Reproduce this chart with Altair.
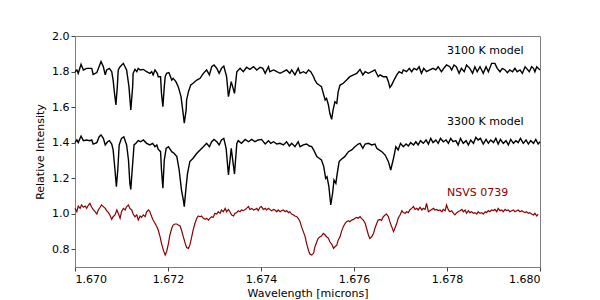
import altair as alt
import pandas as pd

# ---------------- data ----------------
wl_3100 = [1.67000,1.67004,1.67007,1.67013,1.67018,1.67025,1.67036,1.67039,1.67047,1.67056,1.67061,1.67065,1.67068,1.67074,1.67079,1.67082,1.67085,1.67088,1.67091,1.67093,1.67097,1.67104,1.67111,1.67116,1.67120,1.67124,1.67125,1.67129,1.67133,1.67136,1.67140,1.67147,1.67154,1.67161,1.67165,1.67168,1.67172,1.67177,1.67179,1.67184,1.67186,1.67189,1.67192,1.67194,1.67197,1.67202,1.67208,1.67211,1.67217,1.67222,1.67228,1.67233,1.67235,1.67239,1.67240,1.67244,1.67249,1.67254,1.67262,1.67269,1.67276,1.67283,1.67289,1.67294,1.67299,1.67305,1.67310,1.67315,1.67320,1.67326,
           1.67330,1.67336,1.67343,1.67348,1.67355,1.67362,1.67369,1.67376,1.67384,1.67391,1.67398,1.67404,1.67409,1.67416,1.67419,1.67427,1.67434,1.67441,1.67448,1.67455,1.67462,1.67466,1.67473,1.67480,1.67484,1.67491,1.67497,1.67502,1.67507,1.67513,1.67516,1.67520,1.67525,1.67530,1.67534,1.67538,1.67541,1.67545,1.67548,1.67552,1.67555,1.67559,1.67563,1.67566,1.67570,1.67577,1.67584,1.67591,1.67599,1.67606,1.67613,1.67619,1.67624,1.67631,1.67638,1.67645,1.67652,
           1.67656,1.67663,1.67670,1.67674,1.67677,1.67681,1.67686,1.67692,1.67697,1.67703,1.67706,1.67713,1.67719,1.67724,1.67729,1.67735,1.67740,1.67745,1.67750,1.67756,1.67763,1.67770,1.67776,1.67781,1.67788,1.67793,1.67799,1.67806,1.67810,1.67815,1.67820,1.67826,1.67831,1.67837,1.67842,1.67849,1.67855,1.67860,1.67865,1.67871,1.67878,1.67884,1.67889,1.67896,1.67903,1.67908,1.67914,1.67919,1.67925,1.67930,1.67935,1.67941,1.67946,1.67951,1.67957,1.67962,1.67968,1.67971,1.67977,1.67982,1.67986,1.67989,1.67993,1.68000]
fl_3100 = [1.799,1.809,1.790,1.841,1.809,1.818,1.818,1.784,1.794,1.856,1.827,1.781,1.809,1.818,1.799,1.752,1.677,1.612,1.715,1.809,1.827,1.846,1.809,1.715,1.584,1.715,1.790,1.812,1.799,1.818,1.809,1.812,1.799,1.790,1.799,1.781,1.809,1.790,1.771,1.771,1.677,1.602,1.715,1.771,1.790,1.794,1.752,1.762,1.743,1.715,1.659,1.555,1.509,1.584,1.640,1.687,1.724,1.734,1.752,1.762,1.790,1.809,1.781,1.827,1.837,1.818,1.790,1.818,1.831,1.771,
           1.659,1.743,1.677,1.799,1.818,1.799,1.824,1.812,1.827,1.809,1.824,1.818,1.790,1.827,1.799,1.809,1.799,1.790,1.799,1.809,1.790,1.809,1.781,1.818,1.790,1.799,1.790,1.809,1.799,1.771,1.752,1.734,1.724,1.715,1.677,1.640,1.649,1.612,1.565,1.531,1.584,1.630,1.621,1.687,1.724,1.734,1.752,1.771,1.781,1.790,1.812,1.781,1.799,1.790,1.799,1.809,1.771,
           1.781,1.771,1.771,1.743,1.711,1.724,1.752,1.781,1.799,1.790,1.809,1.799,1.818,1.799,1.818,1.809,1.827,1.790,1.818,1.799,1.809,1.818,1.809,1.827,1.799,1.818,1.837,1.827,1.809,1.837,1.827,1.790,1.818,1.799,1.837,1.818,1.790,1.827,1.799,1.827,1.790,1.827,1.799,1.846,1.846,1.818,1.799,1.818,1.809,1.794,1.809,1.799,1.818,1.799,1.809,1.790,1.827,1.818,1.799,1.827,1.818,1.799,1.827,1.809]

wl_3300 = [1.67000,1.67004,1.67007,1.67013,1.67018,1.67025,1.67032,1.67036,1.67039,1.67047,1.67052,1.67056,1.67061,1.67065,1.67070,1.67074,1.67079,1.67082,1.67086,1.67089,1.67092,1.67095,1.67100,1.67105,1.67111,1.67115,1.67118,1.67120,1.67123,1.67127,1.67131,1.67136,1.67141,1.67147,1.67154,1.67161,1.67167,1.67172,1.67176,1.67179,1.67184,1.67186,1.67189,1.67192,1.67196,1.67201,1.67208,1.67213,1.67219,1.67224,1.67229,1.67233,1.67235,1.67239,1.67242,1.67247,1.67254,1.67262,1.67269,1.67276,1.67283,1.67289,1.67294,1.67299,1.67305,1.67310,1.67315,1.67320,1.67325,
           1.67330,1.67336,1.67343,1.67348,1.67351,1.67358,1.67366,1.67373,1.67380,1.67387,1.67394,1.67401,1.67409,1.67416,1.67421,1.67427,1.67434,1.67441,1.67448,1.67455,1.67461,1.67466,1.67473,1.67480,1.67484,1.67491,1.67498,1.67504,1.67509,1.67514,1.67520,1.67525,1.67530,1.67535,1.67539,1.67542,1.67546,1.67550,1.67554,1.67557,1.67561,1.67564,1.67568,1.67573,1.67580,1.67588,1.67595,1.67602,1.67609,1.67613,1.67619,1.67624,1.67631,1.67638,1.67645,1.67649,1.67654,
           1.67660,1.67667,1.67674,1.67679,1.67685,1.67690,1.67695,1.67700,1.67706,1.67712,1.67717,1.67722,1.67728,1.67733,1.67738,1.67743,1.67749,1.67755,1.67760,1.67765,1.67770,1.67776,1.67781,1.67786,1.67792,1.67798,1.67803,1.67808,1.67813,1.67819,1.67824,1.67829,1.67835,1.67841,1.67846,1.67851,1.67857,1.67862,1.67867,1.67872,1.67878,1.67884,1.67889,1.67894,1.67900,1.67905,1.67910,1.67915,1.67921,1.67927,1.67932,1.67937,1.67943,1.67948,1.67953,1.67958,1.67964,1.67970,1.67975,1.67980,1.67986,1.67991,1.67996,1.68000]
fl_3300 = [1.400,1.415,1.400,1.437,1.411,1.415,1.411,1.415,1.392,1.400,1.433,1.443,1.424,1.387,1.405,1.411,1.392,1.359,1.246,1.152,1.246,1.387,1.424,1.433,1.387,1.302,1.171,1.137,1.246,1.387,1.396,1.411,1.405,1.415,1.396,1.387,1.396,1.377,1.387,1.362,1.349,1.246,1.143,1.302,1.368,1.377,1.349,1.340,1.321,1.246,1.133,1.077,1.040,1.152,1.227,1.293,1.312,1.340,1.359,1.377,1.396,1.377,1.405,1.418,1.405,1.387,1.415,1.424,1.368,
           1.218,1.368,1.223,1.396,1.411,1.396,1.418,1.405,1.418,1.405,1.415,1.418,1.392,1.411,1.396,1.405,1.392,1.396,1.387,1.405,1.381,1.396,1.377,1.405,1.377,1.387,1.392,1.381,1.377,1.355,1.321,1.312,1.302,1.265,1.199,1.208,1.152,1.049,1.115,1.190,1.171,1.227,1.293,1.306,1.321,1.349,1.359,1.377,1.392,1.396,1.368,1.392,1.396,1.387,1.392,1.368,1.359,
           1.349,1.330,1.293,1.246,1.312,1.377,1.359,1.396,1.377,1.392,1.381,1.400,1.387,1.405,1.387,1.411,1.396,1.415,1.392,1.424,1.400,1.415,1.396,1.424,1.405,1.415,1.396,1.424,1.405,1.411,1.387,1.424,1.396,1.411,1.387,1.415,1.396,1.430,1.415,1.424,1.392,1.418,1.396,1.415,1.400,1.424,1.392,1.418,1.396,1.411,1.387,1.418,1.396,1.411,1.400,1.424,1.396,1.415,1.392,1.411,1.396,1.418,1.392,1.405]

wl_obs = [1.67000,1.67004,1.67007,1.67011,1.67014,1.67018,1.67022,1.67025,1.67029,1.67032,1.67036,1.67039,1.67043,1.67047,1.67050,1.67054,1.67057,1.67061,1.67065,1.67068,
          1.67072,1.67075,1.67079,1.67082,1.67086,1.67090,1.67093,1.67097,1.67100,1.67104,1.67108,1.67111,1.67115,1.67118,1.67122,1.67125,1.67129,1.67133,1.67136,1.67140,
          1.67143,1.67147,1.67151,1.67154,1.67158,1.67161,1.67165,1.67168,1.67172,1.67176,1.67179,1.67183,1.67186,1.67190,1.67194,1.67197,1.67201,1.67204,1.67208,1.67211,
          1.67215,1.67219,1.67222,1.67226,1.67229,1.67233,1.67237,1.67240,1.67244,1.67247,1.67251,1.67254,1.67258,1.67262,1.67265,1.67269,1.67272,1.67276,1.67280,1.67283,
          1.67287,1.67290,1.67294,1.67297,1.67301,1.67305,1.67308,1.67312,1.67315,1.67319,1.67323,1.67326,1.67330,
          1.67333,1.67337,1.67341,1.67344,1.67348,1.67351,1.67355,1.67358,1.67362,1.67366,1.67369,1.67373,1.67376,1.67380,1.67384,1.67387,1.67391,1.67394,1.67398,1.67401,
          1.67405,1.67409,1.67412,1.67416,1.67419,1.67423,1.67427,1.67430,1.67434,1.67437,1.67441,1.67444,1.67448,1.67452,1.67455,1.67459,1.67462,1.67466,1.67470,1.67473,
          1.67477,1.67480,1.67484,1.67487,1.67491,1.67495,1.67498,1.67502,1.67505,1.67509,1.67513,1.67516,1.67520,1.67523,1.67527,1.67530,1.67534,1.67538,1.67541,1.67545,
          1.67548,1.67552,1.67556,1.67559,1.67563,1.67566,1.67570,1.67573,1.67577,1.67581,1.67584,1.67588,1.67591,1.67595,1.67599,1.67602,1.67606,1.67609,1.67613,1.67616,
          1.67620,1.67624,1.67627,1.67631,1.67634,1.67638,1.67642,1.67645,1.67649,1.67652,1.67656,
          1.67659,1.67663,1.67667,1.67670,1.67674,1.67677,1.67681,1.67685,1.67688,1.67692,1.67695,1.67699,1.67703,1.67706,1.67710,1.67713,1.67717,1.67720,1.67724,1.67728,
          1.67731,1.67735,1.67738,1.67742,1.67746,1.67749,1.67753,1.67756,1.67760,1.67763,1.67767,1.67771,1.67774,1.67778,1.67781,1.67785,1.67789,1.67792,1.67796,1.67799,
          1.67803,1.67806,1.67810,1.67814,1.67817,1.67821,1.67824,1.67828,1.67832,1.67835,1.67839,1.67842,1.67846,1.67849,1.67853,1.67857,1.67860,1.67864,1.67867,1.67871,
          1.67875,1.67878,1.67882,1.67885,1.67889,1.67892,1.67896,1.67900,1.67903,1.67907,1.67910,1.67914,1.67918,1.67921,1.67925,1.67928,1.67932,1.67935,1.67939,1.67943,
          1.67946,1.67950,1.67953,1.67957,1.67961,1.67964,1.67968,1.67971,1.67975,1.67978,1.67982,1.67986,1.67989,1.67993,1.67996]
fl_obs = [1.030,1.011,1.043,1.030,1.049,1.036,1.043,1.030,1.049,1.058,1.036,1.024,1.011,0.998,1.021,1.036,1.049,1.040,1.030,1.017,
          1.006,0.993,0.968,0.983,0.993,1.021,1.002,0.974,1.011,1.030,1.021,1.040,1.049,1.030,1.021,0.998,0.983,0.993,0.964,0.987,
          0.979,0.993,0.983,1.011,1.021,1.011,0.983,0.964,0.946,0.927,0.908,0.870,0.833,0.795,0.767,0.786,0.833,0.880,0.918,0.936,
          0.942,0.942,0.936,0.931,0.908,0.870,0.833,0.810,0.805,0.823,0.870,0.908,0.946,0.974,0.987,0.983,0.987,0.974,0.968,0.974,
          0.964,0.974,0.983,0.979,1.002,0.998,1.011,1.002,1.021,1.011,1.030,1.011,1.024,
          1.011,0.993,0.987,1.002,1.006,1.017,1.011,1.021,1.017,1.024,1.030,1.040,1.024,1.030,1.021,1.024,1.030,1.017,1.036,1.040,
          1.024,1.030,1.021,1.030,1.024,1.017,1.024,1.021,1.011,1.021,1.011,1.017,1.021,1.011,1.017,1.006,1.011,0.998,0.993,0.987,
          0.983,0.974,0.955,0.927,0.899,0.870,0.833,0.795,0.773,0.767,0.777,0.814,0.842,0.861,0.870,0.874,0.889,0.880,0.870,0.861,
          0.842,0.829,0.805,0.814,0.823,0.851,0.870,0.899,0.927,0.946,0.955,0.961,0.955,0.964,0.968,0.974,0.979,0.974,0.983,0.974,
          0.964,0.946,0.918,0.880,0.861,0.870,0.889,0.918,0.946,0.964,0.968,
          0.961,0.983,0.993,0.998,0.983,0.955,0.927,0.899,0.918,0.946,0.974,0.993,1.017,1.006,1.002,1.011,1.006,1.021,1.030,1.040,
          1.024,1.030,1.021,1.036,1.021,1.030,1.024,1.058,1.011,1.017,1.024,1.030,1.021,1.024,1.017,1.021,1.011,1.024,1.017,1.049,
          1.021,1.011,1.017,1.002,0.993,1.006,1.011,1.017,1.024,1.011,1.021,1.002,1.017,1.006,1.011,1.002,1.006,0.998,1.011,1.002,
          1.006,0.998,1.011,1.006,1.017,1.011,1.021,1.017,1.024,1.011,1.030,1.017,1.021,1.011,1.024,1.017,1.021,1.011,1.017,1.021,
          1.011,1.017,1.021,1.011,1.017,1.011,1.006,1.011,1.002,1.006,0.998,0.993,1.002,0.987,0.998]

labels = ["3100 K model", "3300 K model", "NSVS 0739"]
label_wl = [1.678, 1.678, 1.678]
label_fl = [1.9, 1.5, 1.1]
label_colors = ["#000000", "#000000", "#8b0000"]

x_ticks = [1.670, 1.672, 1.674, 1.676, 1.678, 1.680]
y_ticks = [0.8, 1.0, 1.2, 1.4, 1.6, 1.8, 2.0]

FONT = "DejaVu Sans"


def frame(wl, fl):
    pairs = list(zip(wl, fl))
    return pd.DataFrame(pairs, columns=["wl", "flux"])


x_enc = alt.X("wl:Q",
              scale=alt.Scale(domain=[1.670, 1.680], nice=False, zero=False),
              axis=alt.Axis(values=x_ticks, format=".3f", title="Wavelength [microns]",
                            labelPadding=2, titlePadding=3, labelOverlap=False))
y_enc = alt.Y("flux:Q",
              scale=alt.Scale(domain=[0.7, 2.0], nice=False, zero=False),
              axis=alt.Axis(values=y_ticks, format=".1f", title="Relative Intensity",
                            labelPadding=2, titlePadding=6, labelOverlap=False,
                            labelBound=False, labelFlush=False))

l3100 = alt.Chart(frame(wl_3100, fl_3100)).mark_line(color="black", strokeWidth=1.4).encode(x=x_enc, y=y_enc)
l3300 = alt.Chart(frame(wl_3300, fl_3300)).mark_line(color="black", strokeWidth=1.4).encode(x=x_enc, y=y_enc)
lobs = alt.Chart(frame(wl_obs, fl_obs)).mark_line(color="#8b0000", strokeWidth=1.2).encode(x=x_enc, y=y_enc)

txt_df = pd.DataFrame({"label": labels, "wl": label_wl, "flux": label_fl, "c": label_colors})
txt = alt.Chart(txt_df).mark_text(align="left", baseline="alphabetic", fontSize=11, font=FONT).encode(
    x=x_enc, y=y_enc, text="label:N", color=alt.Color("c:N", scale=None))

chart = alt.layer(l3100, l3300, lobs, txt).properties(
    width=465, height=231,
    autosize=alt.AutoSizeParams(type="none"),
    padding={"left": 67, "top": 28, "right": 50, "bottom": 32},
).configure_view(stroke="#7f7f7f", strokeWidth=1).configure_axis(
    grid=False, domain=False, tickColor="#444444", tickSize=4, labelOverlap=False,
    labelFont=FONT, labelFontSize=11, labelColor="black",
    titleFont=FONT, titleFontSize=11, titleFontWeight="normal", titleColor="black",
)

chart.save("out.html", embed_options={"renderer": "svg", "actions": False})
